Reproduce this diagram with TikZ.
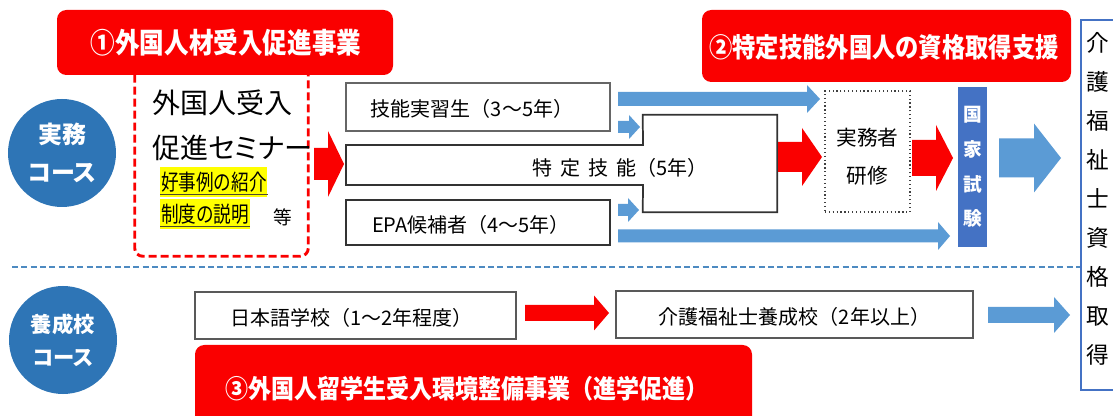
\documentclass[tikz,border=0pt]{standalone}
\usepackage{graphicx}
\usepackage{fontspec}
\setmainfont{Noto Sans CJK JP}
\newfontfamily\jpp[RawFeature=+palt]{Noto Sans CJK JP}
\usetikzlibrary{calc,fit}
\definecolor{myred}{RGB}{250,0,0}
\definecolor{cblue}{RGB}{46,117,182}
\definecolor{lblue}{RGB}{91,155,213}
\definecolor{kblue}{RGB}{68,114,196}
\definecolor{hiyellow}{RGB}{255,255,0}
% block arrow: #1 colour, #2 start coord, #3 tip coord, #4 shaft half, #5 head half, #6 head length
\newcommand\myarrow[6]{\fill[#1] ($(#2)+(0,-#4)$) -- ($(#3)+(-#6,-#4)$) -- ($(#3)+(-#6,-#5)$) -- (#3) -- ($(#3)+(-#6,#5)$) -- ($(#3)+(-#6,#4)$) -- ($(#2)+(0,#4)$) -- cycle;}
\newcommand\narrowtext[1]{\scalebox{0.8}[1]{#1}}
\begin{document}
\begin{tikzpicture}[x=0.75pt,y=-0.75pt,
  banner/.style={fill=myred, rounded corners=7pt, inner sep=0pt},
  btext/.style={text=white, inner sep=0pt, font=\bfseries\fontsize{19}{22}\selectfont},
  pbox/.style={draw=#1, line width=1.3pt, fill=white, inner sep=0pt},
  course/.style={circle, fill=cblue, text=white, inner sep=0pt, minimum size=81pt, align=center},
  lbl/.style={inner sep=0pt, font=\fontsize{15}{18}\selectfont},
  hilite/.style={fill=hiyellow, inner xsep=0.6pt, inner ysep=3.6pt, font=\fontsize{16.5}{18}\selectfont}
]
\clip (0,0) rectangle (1113,416);
\fill[white] (0,0) rectangle (1113,416);

% course circles
\node[course, font=\bfseries\jpp\fontsize{18}{29}\selectfont] (c1) at (62,153) {実務\\コース};
\node[course, font=\bfseries\jpp\fontsize{16}{25}\selectfont] (c2) at (63,340) {養成校\\コース};

% dividing dashed line
\coordinate (dl) at (12,267);
\coordinate (dr) at (1081,267);
\draw[cblue!85, line width=1.5pt, dash pattern=on 4.5pt off 2.5pt] (dl) -- (dr);

% seminar dashed frame
\node[fit={(135,75) (308,256)}, inner sep=0pt] (sem) {};
\draw[myred, line width=2.2pt, dash pattern=on 6pt off 3pt, rounded corners=6pt]
  (sem.north west) -- (sem.south west) -- (sem.south east) -- (sem.north east);
\node[anchor=west, inner sep=0pt, font=\fontsize{21}{24}\selectfont] (s1) at (152,103) {外国人受入};
\node[anchor=west, inner sep=0pt, font=\jpp\fontsize{21}{24}\selectfont] (s2) at (152,148) {促進セミナー};
\node[hilite, anchor=west] (h1) at (160,182) {\narrowtext{好事例の紹介}};
\node[hilite, anchor=west] (h2) at (160,214) {\narrowtext{制度の説明}};
\draw[black!60!olive, line width=0.8pt] ($(h1.south west)+(0,-3)$) -- ($(h1.south east)+(0,-3)$);
\draw[black!60!olive, line width=0.8pt] ($(h2.south west)+(0,-3)$) -- ($(h2.south east)+(0,-3)$);
\node[inner sep=0pt, font=\fontsize{14}{16}\selectfont] (etc) at (283,217) {等};

% banner 1
\node[banner, fit={(57,10) (393,75)}] (b1) {};
\node[btext] (b1t) at (226,43) {\scalebox{0.97}[1.12]{①外国人材受入促進事業}};

% middle boxes
\node[pbox=gray!80!black, fit={(346,83) (610,131)}] (gin) {};
\node[lbl] at ($(gin)+(-6,2)$) {技能実習生（3～5年）};
\node[pbox=black!80, fit={(346,200) (610,245)}] (epa) {};
\node[lbl] at ($(epa)+(-7,2)$) {EPA候補者（4～5年）};
\node[fit={(643,115) (777,212)}, inner sep=0pt] (tk) {};
\coordinate (tkl) at (346,145);
\draw[black!80, line width=1.3pt, fill=white] (tkl) -- (643,145) -- (tk.north west) -- (tk.north east) -- (tk.south east) -- (tk.south west) -- (643,185) -- (346,185) -- cycle;
\node[lbl] (tkt) at (620,168) {特\kern6pt定\kern6pt技\kern6pt能（5年）};

% red arrow seminar -> courses
\coordinate (ra1) at (314,164); \coordinate (ra2) at (344,164);
\myarrow{myred}{ra1}{ra2}{16}{33}{16}

% blue arrows
\coordinate (ba1) at (618,99); \coordinate (ba2) at (820,99);
\myarrow{lblue}{ba1}{ba2}{7}{14}{13}
\coordinate (bs1) at (618,127); \coordinate (bs2) at (640,127);
\myarrow{lblue}{bs1}{bs2}{6}{12}{11}
\coordinate (bs3) at (618,210); \coordinate (bs4) at (639,210);
\myarrow{lblue}{bs3}{bs4}{6}{12}{11}
\coordinate (bb1) at (618,236); \coordinate (bb2) at (950,236);
\myarrow{lblue}{bb1}{bb2}{6.5}{14}{12}

% practical training
\node[draw=black!75, line width=0.9pt, dotted, fill=white, fit={(825,91) (910,212)}, inner sep=0pt] (jt) {};
\node[align=center, inner sep=0pt, font=\fontsize{15.5}{28.5}\selectfont] at ($(jt)+(0,5)$) {実務者\\研修};

\coordinate (rb1) at (778,157); \coordinate (rb2) at (822,157);
\myarrow{myred}{rb1}{rb2}{15}{29}{20}
\coordinate (rc1) at (912,158); \coordinate (rc2) at (953,158);
\myarrow{myred}{rc1}{rc2}{18}{33}{17}

% national exam
\node[fill=kblue, fit={(958,87) (987,247)}, inner sep=0pt] (kk) {};
\node[text=white, align=center, inner sep=0pt, font=\bfseries\fontsize{14}{26}\selectfont] at (kk) {国\\家\\試\\験};

\coordinate (bd1) at (999,158); \coordinate (bd2) at (1061,158);
\myarrow{lblue}{bd1}{bd2}{19.5}{34.5}{27}

% qualification box
\node[draw=kblue, line width=2.2pt, fit={(1081,20) (1130,390)}, inner sep=0pt] (q) {};
\node[align=center, inner sep=0pt, font=\fontsize{17}{29.25}\selectfont] (qt) at (1098,199) {介\\護\\福\\祉\\士\\資\\格\\取\\得};

% school course
\node[pbox=gray!70!black, fit={(195,292) (516,339)}] (nh) {};
\node[lbl] at ($(nh)+(-4,2)$) {日本語学校（1～2年程度）};
\coordinate (re1) at (525,313); \coordinate (re2) at (609,313);
\myarrow{myred}{re1}{re2}{8}{17.5}{15}
\node[pbox=gray!70!black, fit={(616,291) (973,338)}] (kg) {};
\node[lbl] at ($(kg)+(0,2)$) {介護福祉士養成校（2年以上）};
\coordinate (bf1) at (988,315); \coordinate (bf2) at (1070,315);
\myarrow{lblue}{bf1}{bf2}{8}{18}{16}

% banners 2 and 3
\node[banner, fit={(702,10) (1071,82)}] (b2) {};
\node[btext, font=\bfseries\fontsize{18}{22}\selectfont] (b2t) at (884,47) {\scalebox{0.97}[1.12]{②特定技能外国人の資格取得支援}};
\node[banner, fit={(195,345) (752,428)}] (b3) {};
\node[btext, font=\bfseries\fontsize{17.6}{20}\selectfont] (b3t) at (467,389) {\scalebox{0.98}[1.1]{③外国人留学生受入環境整備事業（進学促進）}};
\end{tikzpicture}
\end{document}
